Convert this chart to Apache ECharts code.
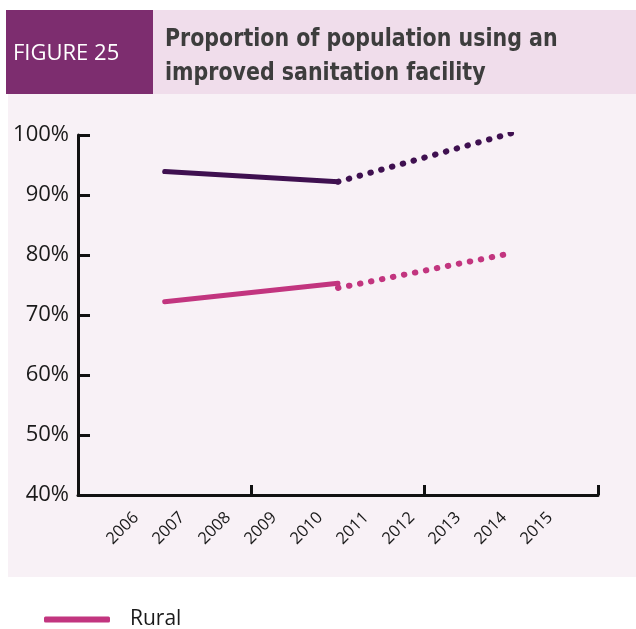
<!DOCTYPE html>
<html>
<head>
<meta charset="utf-8">
<script src="https://cdn.jsdelivr.net/npm/echarts@6/dist/echarts.min.js"></script>
<style>
html,body{margin:0;padding:0;background:#fff;}
#main{width:636px;height:629px;}
</style>
</head>
<body>
<div id="main"></div>
<script>
// ---- data ----
const yearLabels = ['2006','2007','2008','2009','2010','2011','2012','2013','2014','2015'];
const baseYear = 2005;
const actualYears = [2007, 2011];
const targetYears = [2011, 2015];
const urbanActual = [93.9, 92.2];
const urbanTarget = [92.2, 100.3];
const ruralActual = [72.2, 75.3];
const ruralTarget = [74.5, 80.3];
const yMin = 40, yMax = 100, yStep = 10;

const darkColor = '#3f1050';
const pinkColor = '#c2357f';

function pts(years, vals){ return years.map((y,i)=>[y - baseYear, vals[i]]); }

const chart = echarts.init(document.getElementById('main'));
const solid = (name, color, data) => ({
  name, type:'line', xAxisIndex:0, yAxisIndex:0, data, symbol:'none',
  lineStyle:{color, width:5, cap:'round'}, itemStyle:{color}, z:3
});
const dotted = (name, color, data) => ({
  name, type:'line', xAxisIndex:0, yAxisIndex:0, data, symbol:'none',
  lineStyle:{color, width:6, cap:'round', type:[0.5, 10.7]}, itemStyle:{color}, z:3
});

chart.setOption({
  animation:false,
  backgroundColor:'#ffffff',
  graphic:[
    {type:'rect', z:-10, shape:{x:8,y:94,width:628,height:483}, style:{fill:'#f8f1f6'}},
    {type:'rect', z:-10, shape:{x:6,y:10,width:147,height:84}, style:{fill:'#7d2d6f'}},
    {type:'rect', z:-10, shape:{x:153,y:10,width:483,height:84}, style:{fill:'#f0ddeb'}},
    {type:'text', z:5, left:13, top:43, style:{text:'FIGURE 25', fill:'#ffffff', font:'22px "Open Sans", sans-serif'}},
    {type:'text', z:5, x:165, y:22, scaleX:0.915, style:{text:'Proportion of population using an\nimproved sanitation facility', fill:'#3d3d3d', font:'bold 25px "Liberation Sans Narrow", "DejaVu Sans Condensed", sans-serif', lineHeight:34}}
  ],
  legend:{
    data:['Rural'], left:39, top:604, icon:'roundRect', itemWidth:66, itemHeight:6,
    textStyle:{fontSize:21, color:'#1a1a1a', fontFamily:'"Open Sans", sans-serif', padding:[0,0,0,15]}
  },
  grid:[
    {left:78, right:38, top:135, bottom:134},
    {left:113, width:460, top:135, bottom:134}
  ],
  xAxis:[
    {type:'value', gridIndex:0, min:0, max:12, interval:4,
      axisLine:{show:true, lineStyle:{color:'#111', width:3}},
      axisTick:{show:true, inside:true, length:10, lineStyle:{color:'#111', width:3}},
      axisLabel:{show:false}, splitLine:{show:false}},
    {type:'category', gridIndex:1, data:yearLabels, boundaryGap:true,
      axisLine:{show:false}, axisTick:{show:false},
      axisLabel:{rotate:45, margin:20, fontSize:16.5, color:'#1a1a1a', fontFamily:'"Open Sans", sans-serif', interval:0},
      splitLine:{show:false}}
  ],
  yAxis:[
    {type:'value', gridIndex:0, min:yMin, max:yMax, interval:yStep,
      axisLine:{show:true, lineStyle:{color:'#111', width:3}},
      axisTick:{show:true, inside:true, length:12, lineStyle:{color:'#111', width:3}},
      axisLabel:{formatter:'{value}%', fontSize:22, color:'#1a1a1a', margin:9, fontFamily:'"Open Sans", sans-serif'},
      splitLine:{show:false}},
    {type:'value', gridIndex:1, show:false, min:yMin, max:yMax}
  ],
  series:[
    solid('Urban', darkColor, pts(actualYears, urbanActual)),
    dotted('Urban target', darkColor, pts(targetYears, urbanTarget)),
    solid('Rural', pinkColor, pts(actualYears, ruralActual)),
    dotted('Rural target', pinkColor, pts(targetYears, ruralTarget))
  ]
});
</script>
</body>
</html>
